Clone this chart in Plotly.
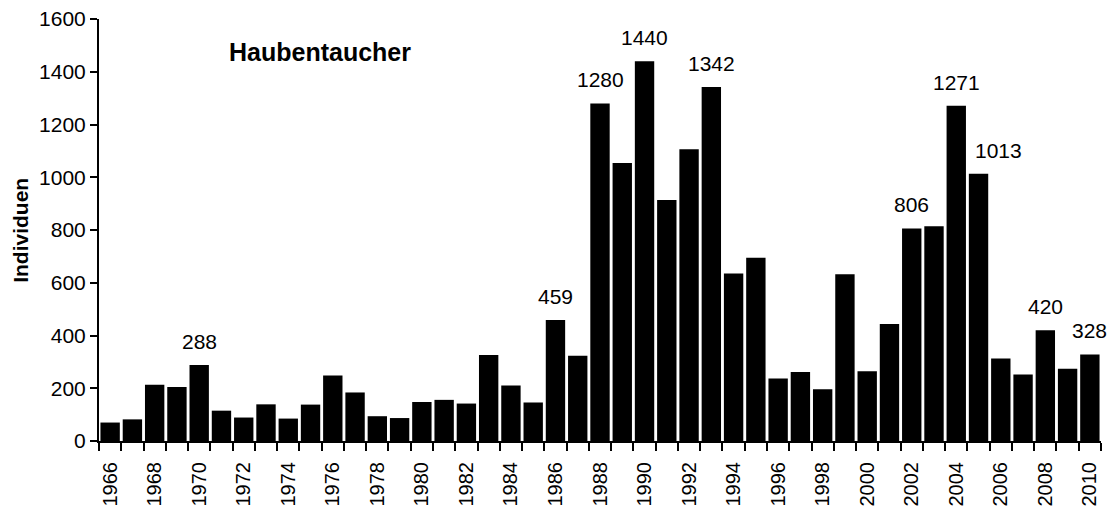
import plotly.graph_objects as go

years = list(range(1966, 2011))
values = [70, 82, 213, 205, 288, 115, 89, 139, 85, 138,
          248, 184, 94, 87, 148, 156, 142, 326, 210, 146,
          459, 323, 1280, 1054, 1440, 914, 1106, 1342, 635, 695,
          237, 262, 196, 632, 264, 444, 806, 814, 1271, 1013,
          313, 252, 420, 274, 328]
labeled_years = [1970, 1986, 1988, 1990, 1993, 2002, 2004, 2005, 2008, 2010]
label_xshift = {2005: 20}
tick_years = list(range(1966, 2011, 2))
title_text = "Haubentaucher"
y_title = "Individuen"

FONT = "Liberation Sans, Arial, sans-serif"

fig = go.Figure(go.Bar(x=years, y=values, marker=dict(color="black", line=dict(width=0)),
                       hoverinfo="x+y"))

val_by_year = dict(zip(years, values))
for yr in labeled_years:
    fig.add_annotation(x=yr, y=val_by_year[yr], text=str(val_by_year[yr]), showarrow=False,
                       yanchor="bottom", yshift=10, xshift=label_xshift.get(yr, 0),
                       font=dict(family=FONT, size=21, color="black"))

fig.add_annotation(xref="paper", yref="paper", x=0.128, y=0.922, xanchor="left", yanchor="middle",
                   text="<b>%s</b>" % title_text, showarrow=False,
                   font=dict(family=FONT, size=25, color="black"))

fig.add_annotation(xref="paper", yref="paper", x=-0.079, y=0.5, xanchor="center", yanchor="middle",
                   text="<b>%s</b>" % y_title, showarrow=False, textangle=-90,
                   font=dict(family=FONT, size=21, color="black"))

fig.update_layout(
    width=1110, height=507,
    margin=dict(l=99, r=9, t=19, b=66, autoexpand=False),
    paper_bgcolor="white", plot_bgcolor="white",
    bargap=0.13, showlegend=False,
    font=dict(family=FONT, color="black"),
)
fig.update_xaxes(
    automargin=False,
    range=[1965.5, 2010.5], showgrid=False, zeroline=False,
    showline=True, linecolor="black", linewidth=2,
    tickmode="array", tickvals=tick_years, ticktext=[str(t) for t in tick_years],
    tickangle=-90, ticks="", ticklabelstandoff=11,
    tickfont=dict(family=FONT, size=20, color="black"),
    minor=dict(ticks="outside", ticklen=8, tickwidth=2, tickcolor="black",
               tick0=1965.5, dtick=1, showgrid=False),
)
fig.update_yaxes(
    automargin=False,
    range=[0, 1600], dtick=200, showgrid=False, zeroline=False,
    showline=True, linecolor="black", linewidth=2,
    ticks="outside", ticklen=7, tickwidth=2, tickcolor="black",
    tickfont=dict(family=FONT, size=21, color="black"),
)

fig.write_html("out.html", config={"displayModeBar": False},
               post_script="document.body.style.margin='0px';document.body.style.overflow='hidden';")
